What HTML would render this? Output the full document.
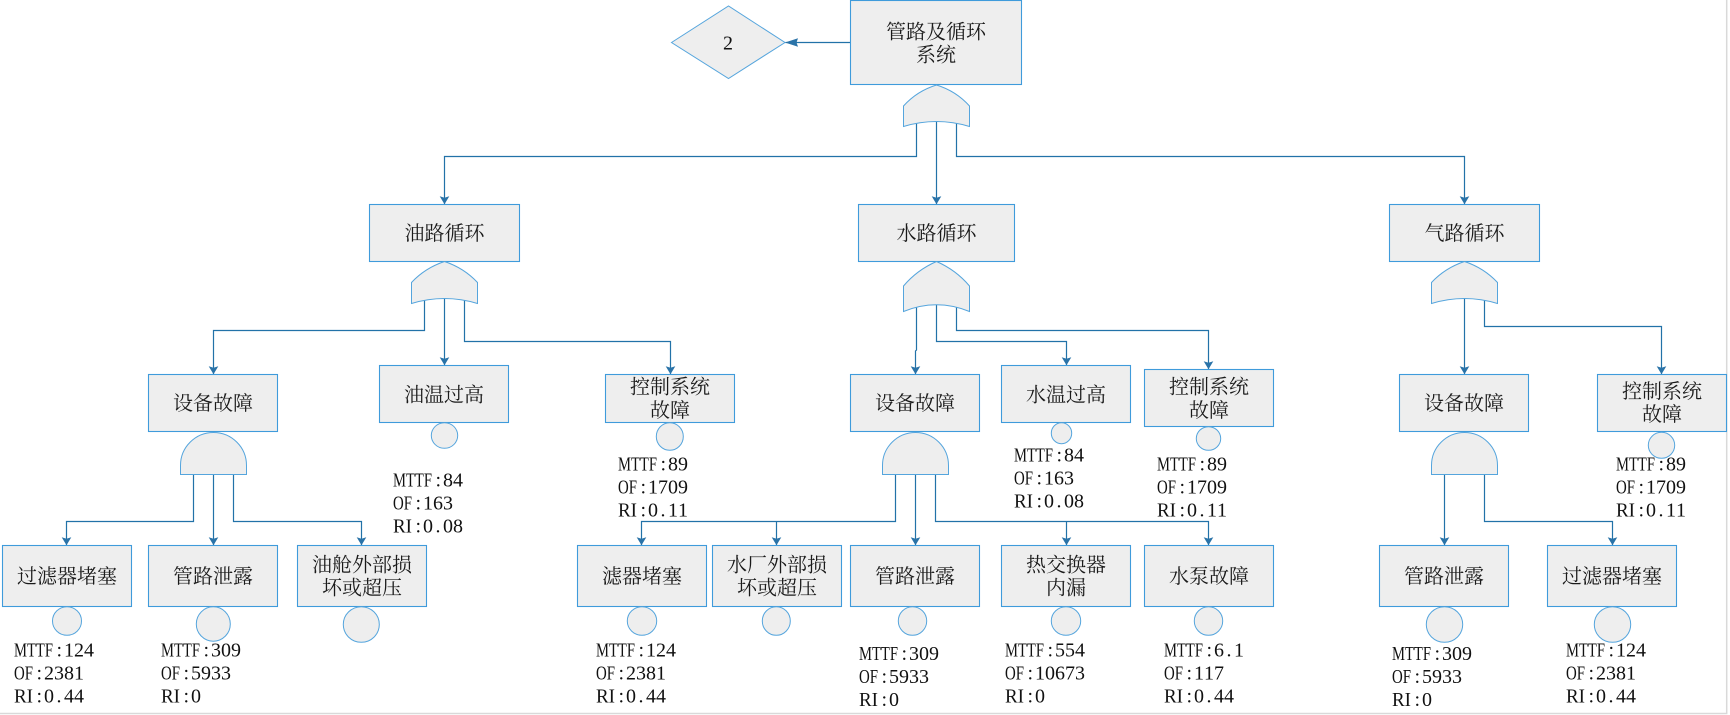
<!DOCTYPE html>
<html lang="zh">
<head>
<meta charset="utf-8">
<title>管路及循环系统</title>
<style>
html,body{margin:0;padding:0;background:#fff;}
svg{display:block;}
.n{fill:#eeeeee;stroke:#3f9bdb;stroke-width:1.1;}
.g{fill:#eeeeee;stroke:#55a5dd;stroke-width:1;}
.l{fill:none;stroke:#2272a8;stroke-width:1.2;}
.c{font-family:"Liberation Serif","Noto Serif CJK SC",serif;font-size:20px;fill:#1a1a1a;text-anchor:middle;}
.m{font-family:"Liberation Serif",serif;font-size:20px;fill:#111;}
</style>
</head>
<body>
<svg width="1730" height="715" viewBox="0 0 1730 715" xmlns="http://www.w3.org/2000/svg">
<defs>
<path id="a" d="M-4.8 -8 L0 -6.6 L4.8 -8 L0 0 Z" fill="#2a73a8"/>
</defs>
<rect width="1730" height="715" fill="#fff"/>
<path d="M1726.7 0V713.5H0" fill="none" stroke="#d9d9d9" stroke-width="1.5"/>

<!-- connectors -->
<g class="l">
<path d="M850.5 42.5H785.5"/>
<path d="M916.5 122V156.5H444.5V204"/>
<path d="M936.5 121V204"/>
<path d="M956.5 122V156.5H1464.5V204"/>
<path d="M424.5 299V330.5H213.5V374"/>
<path d="M444.5 298V365"/>
<path d="M464.5 299V341.5H670.5V374"/>
<path d="M916.5 306V350L915.5 351V374"/>
<path d="M936.5 304V341.5H1066.5V365"/>
<path d="M956.5 307V330.5H1208.5V369"/>
<path d="M1464.5 298V374"/>
<path d="M1484.5 299V326.5H1661.5V374"/>
<path d="M193.5 474V521.5H66.5V545"/>
<path d="M213.5 474V545"/>
<path d="M233.5 474V521.5H361.5V545"/>
<path d="M895.5 474V521.5H641.5V545"/>
<path d="M776.5 521.5V545"/>
<path d="M915.5 474V545"/>
<path d="M935.5 474V521.5H1208.5V545"/>
<path d="M1066.5 521.5V545"/>
<path d="M1444.5 474V545"/>
<path d="M1484.5 474V521.5H1612.5V545"/>
</g>
<path d="M785 42.5L798 38.3L796.5 42.5L798 46.7Z" fill="#2a73a8"/>
<use href="#a" x="444.5" y="204.3"/><use href="#a" x="936.5" y="204.3"/><use href="#a" x="1464.5" y="204.3"/>
<use href="#a" x="213.5" y="374.3"/><use href="#a" x="444.5" y="365.3"/><use href="#a" x="670.5" y="374.3"/>
<use href="#a" x="915.5" y="374.3"/><use href="#a" x="1066.5" y="365.3"/><use href="#a" x="1208.5" y="369.3"/>
<use href="#a" x="1464.5" y="374.3"/><use href="#a" x="1661.5" y="374.3"/>
<use href="#a" x="66.5" y="545.3"/><use href="#a" x="213.5" y="545.3"/><use href="#a" x="361.5" y="545.3"/>
<use href="#a" x="641.5" y="545.3"/><use href="#a" x="776.5" y="545.3"/><use href="#a" x="915.5" y="545.3"/>
<use href="#a" x="1066.5" y="545.3"/><use href="#a" x="1208.5" y="545.3"/>
<use href="#a" x="1444.5" y="545.3"/><use href="#a" x="1612.5" y="545.3"/>

<!-- diamond -->
<path class="g" d="M671.5 42.5L728.5 6L785 42.5L728.5 78.5Z"/>

<!-- boxes -->
<g class="n">
<rect x="850.5" y="0.5" width="171" height="84"/>
<rect x="369.5" y="204.5" width="150" height="57"/>
<rect x="858.5" y="204.5" width="156" height="57"/>
<rect x="1389.5" y="204.5" width="150" height="57"/>
<rect x="148.5" y="374.5" width="129" height="57"/>
<rect x="379.5" y="365.5" width="129" height="57"/>
<rect x="605.5" y="374.5" width="129" height="48"/>
<rect x="850.5" y="374.5" width="129" height="57"/>
<rect x="1001.5" y="365.5" width="129" height="57"/>
<rect x="1144.5" y="369.5" width="129" height="57"/>
<rect x="1399.5" y="374.5" width="129" height="57"/>
<rect x="1597.5" y="374.5" width="129" height="57"/>
<rect x="2.5" y="545.5" width="129" height="61"/>
<rect x="148.5" y="545.5" width="129" height="61"/>
<rect x="297.5" y="545.5" width="129" height="61"/>
<rect x="577.5" y="545.5" width="129" height="61"/>
<rect x="712.5" y="545.5" width="129" height="61"/>
<rect x="850.5" y="545.5" width="129" height="61"/>
<rect x="1001.5" y="545.5" width="129" height="61"/>
<rect x="1144.5" y="545.5" width="129" height="61"/>
<rect x="1379.5" y="545.5" width="129" height="61"/>
<rect x="1547.5" y="545.5" width="129" height="61"/>
</g>

<!-- OR gates -->
<g class="g">
<path d="M903.5 106Q917 91 936.5 85Q956 91 969.5 106V126.5Q936.5 116.5 903.5 126.5Z"/>
<path d="M411.5 282.5Q425 268 444.5 261.5Q464 268 477.5 282.5V303.5Q444.5 293.5 411.5 303.5Z"/>
<path d="M903.5 286Q917 270 936.5 261.5Q956 270 969.5 286V311.5Q936.5 298 903.5 311.5Z"/>
<path d="M1431.5 282.5Q1445 268 1464.5 261.5Q1484 268 1497.5 282.5V303.5Q1464.5 293.5 1431.5 303.5Z"/>
</g>
<!-- AND gates -->
<g class="g">
<path d="M180.5 474.5V465.5A33 33 0 0 1 246.5 465.5V474.5Z"/>
<path d="M882.5 474.5V465.5A33 33 0 0 1 948.5 465.5V474.5Z"/>
<path d="M1431.5 474.5V465.5A33 33 0 0 1 1497.5 465.5V474.5Z"/>
</g>

<!-- circles -->
<g class="g">
<ellipse cx="67" cy="621" rx="14.5" ry="14.3"/>
<ellipse cx="213.3" cy="624" rx="17" ry="17.2"/>
<ellipse cx="361.3" cy="624.5" rx="18" ry="17.8"/>
<ellipse cx="444.5" cy="435.5" rx="13.2" ry="12.8"/>
<ellipse cx="669.8" cy="436.5" rx="13.5" ry="13.8"/>
<ellipse cx="642" cy="621" rx="14.7" ry="14.3"/>
<ellipse cx="776.3" cy="621" rx="14" ry="14.3"/>
<ellipse cx="912.5" cy="621" rx="14.2" ry="14.3"/>
<ellipse cx="1061.5" cy="433.2" rx="10.2" ry="10.5"/>
<ellipse cx="1208.5" cy="438.5" rx="12.2" ry="11.8"/>
<ellipse cx="1066" cy="621" rx="14.7" ry="14.3"/>
<ellipse cx="1208.5" cy="621" rx="14.2" ry="14.3"/>
<ellipse cx="1444.5" cy="624.5" rx="18.2" ry="17.8"/>
<ellipse cx="1612.5" cy="624.5" rx="18.2" ry="17.8"/>
<ellipse cx="1661.5" cy="445.3" rx="13.2" ry="13"/>
</g>

<!-- box labels -->
<g class="c">
<text x="936" y="38.5">管路及循环</text><text x="936" y="61.5">系统</text>
<text x="444.5" y="240">油路循环</text>
<text x="936.5" y="240">水路循环</text>
<text x="1464.5" y="240">气路循环</text>
<text x="213" y="410">设备故障</text>
<text x="444" y="401.5">油温过高</text>
<text x="670" y="393.7">控制系统</text><text x="670" y="417">故障</text>
<text x="915" y="410">设备故障</text>
<text x="1066" y="401.5">水温过高</text>
<text x="1209" y="393.7">控制系统</text><text x="1209" y="417">故障</text>
<text x="1464" y="410">设备故障</text>
<text x="1662" y="398">控制系统</text><text x="1662" y="421">故障</text>
<text x="67" y="583">过滤器堵塞</text>
<text x="213" y="583">管路泄露</text>
<text x="362" y="571.5">油舱外部损</text><text x="362" y="594.5">坏或超压</text>
<text x="642" y="583">滤器堵塞</text>
<text x="777" y="571.5">水厂外部损</text><text x="777" y="594.5">坏或超压</text>
<text x="915" y="583">管路泄露</text>
<text x="1066" y="571.5">热交换器</text><text x="1066" y="594.5">内漏</text>
<text x="1209" y="583">水泵故障</text>
<text x="1444" y="583">管路泄露</text>
<text x="1612" y="583">过滤器堵塞</text>
</g>

<!-- metric labels -->
<g class="m">
<text x="723" y="49.5">2</text>
<g transform="translate(14,656.7)"><text><tspan textLength="39" lengthAdjust="spacingAndGlyphs">MTTF</tspan><tspan x="42.5 50 60 70">:124</tspan></text><text y="23"><tspan textLength="19" lengthAdjust="spacingAndGlyphs">OF</tspan><tspan x="22.5 30 40 50 60">:2381</tspan></text><text y="46"><tspan textLength="19" lengthAdjust="spacingAndGlyphs">RI</tspan><tspan x="22.5 30 42.5 50 60">:0.44</tspan></text></g>
<g transform="translate(161,656.7)"><text><tspan textLength="39" lengthAdjust="spacingAndGlyphs">MTTF</tspan><tspan x="42.5 50 60 70">:309</tspan></text><text y="23"><tspan textLength="19" lengthAdjust="spacingAndGlyphs">OF</tspan><tspan x="22.5 30 40 50 60">:5933</tspan></text><text y="46"><tspan textLength="19" lengthAdjust="spacingAndGlyphs">RI</tspan><tspan x="22.5 30">:0</tspan></text></g>
<g transform="translate(393,486.7)"><text><tspan textLength="39" lengthAdjust="spacingAndGlyphs">MTTF</tspan><tspan x="42.5 50 60">:84</tspan></text><text y="23"><tspan textLength="19" lengthAdjust="spacingAndGlyphs">OF</tspan><tspan x="22.5 30 40 50">:163</tspan></text><text y="46"><tspan textLength="19" lengthAdjust="spacingAndGlyphs">RI</tspan><tspan x="22.5 30 42.5 50 60">:0.08</tspan></text></g>
<g transform="translate(618,470.7)"><text><tspan textLength="39" lengthAdjust="spacingAndGlyphs">MTTF</tspan><tspan x="42.5 50 60">:89</tspan></text><text y="23"><tspan textLength="19" lengthAdjust="spacingAndGlyphs">OF</tspan><tspan x="22.5 30 40 50 60">:1709</tspan></text><text y="46"><tspan textLength="19" lengthAdjust="spacingAndGlyphs">RI</tspan><tspan x="22.5 30 42.5 50 60">:0.11</tspan></text></g>
<g transform="translate(596,656.7)"><text><tspan textLength="39" lengthAdjust="spacingAndGlyphs">MTTF</tspan><tspan x="42.5 50 60 70">:124</tspan></text><text y="23"><tspan textLength="19" lengthAdjust="spacingAndGlyphs">OF</tspan><tspan x="22.5 30 40 50 60">:2381</tspan></text><text y="46"><tspan textLength="19" lengthAdjust="spacingAndGlyphs">RI</tspan><tspan x="22.5 30 42.5 50 60">:0.44</tspan></text></g>
<g transform="translate(859,660)"><text><tspan textLength="39" lengthAdjust="spacingAndGlyphs">MTTF</tspan><tspan x="42.5 50 60 70">:309</tspan></text><text y="23"><tspan textLength="19" lengthAdjust="spacingAndGlyphs">OF</tspan><tspan x="22.5 30 40 50 60">:5933</tspan></text><text y="46"><tspan textLength="19" lengthAdjust="spacingAndGlyphs">RI</tspan><tspan x="22.5 30">:0</tspan></text></g>
<g transform="translate(1014,461.7)"><text><tspan textLength="39" lengthAdjust="spacingAndGlyphs">MTTF</tspan><tspan x="42.5 50 60">:84</tspan></text><text y="23"><tspan textLength="19" lengthAdjust="spacingAndGlyphs">OF</tspan><tspan x="22.5 30 40 50">:163</tspan></text><text y="46"><tspan textLength="19" lengthAdjust="spacingAndGlyphs">RI</tspan><tspan x="22.5 30 42.5 50 60">:0.08</tspan></text></g>
<g transform="translate(1157,470.7)"><text><tspan textLength="39" lengthAdjust="spacingAndGlyphs">MTTF</tspan><tspan x="42.5 50 60">:89</tspan></text><text y="23"><tspan textLength="19" lengthAdjust="spacingAndGlyphs">OF</tspan><tspan x="22.5 30 40 50 60">:1709</tspan></text><text y="46"><tspan textLength="19" lengthAdjust="spacingAndGlyphs">RI</tspan><tspan x="22.5 30 42.5 50 60">:0.11</tspan></text></g>
<g transform="translate(1005,656.7)"><text><tspan textLength="39" lengthAdjust="spacingAndGlyphs">MTTF</tspan><tspan x="42.5 50 60 70">:554</tspan></text><text y="23"><tspan textLength="19" lengthAdjust="spacingAndGlyphs">OF</tspan><tspan x="22.5 30 40 50 60 70">:10673</tspan></text><text y="46"><tspan textLength="19" lengthAdjust="spacingAndGlyphs">RI</tspan><tspan x="22.5 30">:0</tspan></text></g>
<g transform="translate(1164,656.7)"><text><tspan textLength="39" lengthAdjust="spacingAndGlyphs">MTTF</tspan><tspan x="42.5 50 62.5 70">:6.1</tspan></text><text y="23"><tspan textLength="19" lengthAdjust="spacingAndGlyphs">OF</tspan><tspan x="22.5 30 40 50">:117</tspan></text><text y="46"><tspan textLength="19" lengthAdjust="spacingAndGlyphs">RI</tspan><tspan x="22.5 30 42.5 50 60">:0.44</tspan></text></g>
<g transform="translate(1392,660)"><text><tspan textLength="39" lengthAdjust="spacingAndGlyphs">MTTF</tspan><tspan x="42.5 50 60 70">:309</tspan></text><text y="23"><tspan textLength="19" lengthAdjust="spacingAndGlyphs">OF</tspan><tspan x="22.5 30 40 50 60">:5933</tspan></text><text y="46"><tspan textLength="19" lengthAdjust="spacingAndGlyphs">RI</tspan><tspan x="22.5 30">:0</tspan></text></g>
<g transform="translate(1566,656.7)"><text><tspan textLength="39" lengthAdjust="spacingAndGlyphs">MTTF</tspan><tspan x="42.5 50 60 70">:124</tspan></text><text y="23"><tspan textLength="19" lengthAdjust="spacingAndGlyphs">OF</tspan><tspan x="22.5 30 40 50 60">:2381</tspan></text><text y="46"><tspan textLength="19" lengthAdjust="spacingAndGlyphs">RI</tspan><tspan x="22.5 30 42.5 50 60">:0.44</tspan></text></g>
<g transform="translate(1616,470.7)"><text><tspan textLength="39" lengthAdjust="spacingAndGlyphs">MTTF</tspan><tspan x="42.5 50 60">:89</tspan></text><text y="23"><tspan textLength="19" lengthAdjust="spacingAndGlyphs">OF</tspan><tspan x="22.5 30 40 50 60">:1709</tspan></text><text y="46"><tspan textLength="19" lengthAdjust="spacingAndGlyphs">RI</tspan><tspan x="22.5 30 42.5 50 60">:0.11</tspan></text></g>
</g>
</svg>
</body>
</html>
